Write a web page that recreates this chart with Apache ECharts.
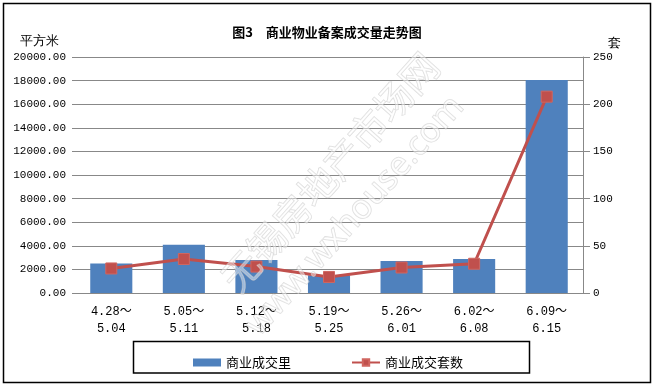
<!DOCTYPE html>
<html><head><meta charset="utf-8">
<script src="https://cdn.jsdelivr.net/npm/echarts@6/dist/echarts.min.js"></script>
<style>html,body{margin:0;padding:0;background:#fff}#c{width:654px;height:387px}</style>
</head><body><div id="c"></div>
<script>
var categories = ['4.28～\n5.04','5.05～\n5.11','5.12～\n5.18','5.19～\n5.25','5.26～\n6.01','6.02～\n6.08','6.09～\n6.15'];
var areaValues = [2490, 4080, 2800, 1500, 2720, 2890, 18050];
var unitValues = [26, 36, 28, 17, 27, 31, 208];
var leftTicks = {min:0, max:20000, interval:2000};
var rightTicks = {min:0, max:250, interval:50};

var chart = echarts.init(document.getElementById('c'));
var mono = '"Liberation Mono","Noto Sans CJK SC",monospace';
var cjk = '"Noto Sans CJK SC","Noto Sans",sans-serif';
chart.setOption({
  animation:false,
  backgroundColor:'#fff',
  title:{text:'图3　商业物业备案成交量走势图', left:'center', top:21,
    textStyle:{fontSize:13, fontWeight:'bold', color:'#000', fontFamily:cjk}},
  grid:{left:75, right:71, top:57, bottom:94},
  legend:{left:188, top:351, itemGap:60, itemWidth:28, itemHeight:8,
    textStyle:{fontSize:13, color:'#000', fontFamily:cjk},
    data:[{name:'商业成交里', icon:'rect'},{name:'商业成交套数'}]},
  xAxis:{type:'category', data:categories,
    axisLine:{lineStyle:{color:'#888', width:1}}, axisTick:{show:false},
    axisLabel:{color:'#000', fontSize:12, fontFamily:mono, lineHeight:17, margin:10, interval:0}},
  yAxis:[
    {type:'value', min:leftTicks.min, max:leftTicks.max, interval:leftTicks.interval,
     axisLine:{show:false}, axisTick:{show:true, length:3, lineStyle:{color:'#888'}},
     splitLine:{lineStyle:{color:'#888', width:1}},
     axisLabel:{color:'#000', fontSize:11, fontFamily:mono, margin:9,
       formatter:function(v){return v.toFixed(2);}}},
    {type:'value', min:rightTicks.min, max:rightTicks.max, interval:rightTicks.interval, position:'right',
     axisLine:{show:true, lineStyle:{color:'#888', width:1}},
     axisTick:{show:true, length:7, lineStyle:{color:'#888'}},
     splitLine:{show:false},
     axisLabel:{color:'#000', fontSize:11, fontFamily:mono, margin:10}}
  ],
  series:[
    {name:'商业成交里', type:'bar', data:areaValues, barWidth:'58%', yAxisIndex:0,
     itemStyle:{color:'#4F81BD'}},
    {name:'商业成交套数', type:'line', data:unitValues, yAxisIndex:1, symbol:'rect', symbolSize:11,
     lineStyle:{color:'#C0504D', width:3}, itemStyle:{color:'#C0504D', borderColor:'#D06660', borderWidth:1}, z:5}
  ],
  graphic:[
    {type:'rect', shape:{x:3.5, y:3.5, width:647, height:379}, style:{fill:'none', stroke:'#000', lineWidth:1.5}, z:-1},
    {type:'rect', shape:{x:133.5, y:341.5, width:396, height:31.5}, style:{fill:'none', stroke:'#000', lineWidth:1.5}},
    {type:'text', left:20, top:35, style:{text:'平方米', fontSize:13, fill:'#000', font:'13px '+cjk}},
    {type:'text', left:608, top:37, style:{text:'套', fontSize:13, fill:'#000', font:'13px '+cjk}},
    {type:'text', x:330, y:172, rotation:0.84, z:100,
     style:{text:'无锡房地产市场网', font:'38px '+cjk, fill:'rgba(255,255,255,0.45)', stroke:'rgba(190,190,190,0.55)', lineWidth:1, align:'center', verticalAlign:'middle'}},
    {type:'text', x:355, y:216, rotation:0.84, z:100,
     style:{text:'www.wxhouse.com', font:'34px "Noto Sans",sans-serif', fill:'rgba(255,255,255,0.45)', stroke:'rgba(190,190,190,0.55)', lineWidth:1, align:'center', verticalAlign:'middle'}}
  ]
});
</script></body></html>
